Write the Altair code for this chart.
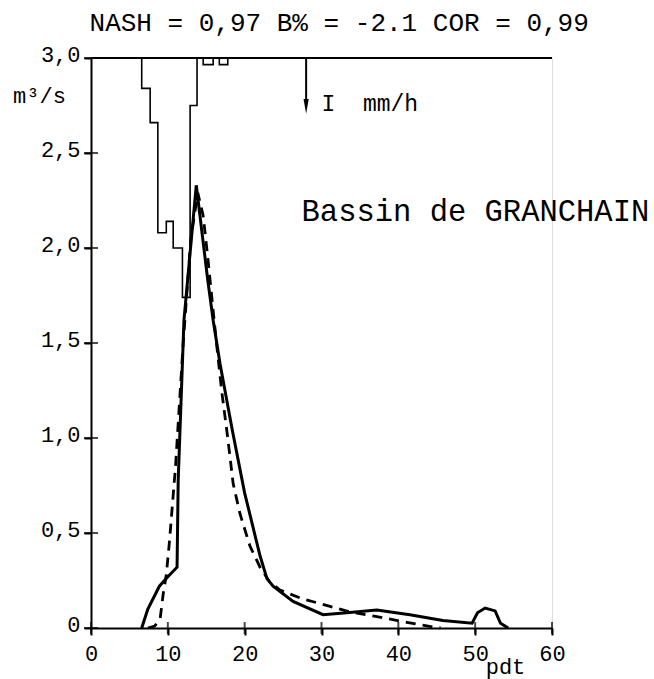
import altair as alt
import pandas as pd

# ---- data ----
# observed hydrograph (solid)
obs_t = [6.6, 7.4, 8.9, 10.0, 11.2, 11.35, 12.1, 13.7, 15.2, 15.9, 16.8, 18.4, 20.0,
         22.0, 22.9, 23.7, 26.3, 30.2, 33.3, 37.2, 41.5, 45.8, 49.6, 50.3, 51.3,
         52.6, 53.3, 54.3]
obs_q = [0.0, 0.10, 0.22, 0.27, 0.32, 0.78, 1.62, 2.33, 1.83, 1.62, 1.39, 1.04, 0.71,
         0.38, 0.26, 0.22, 0.14, 0.07, 0.08, 0.095, 0.07, 0.04, 0.025, 0.08, 0.105,
         0.09, 0.025, 0.0]

# simulated hydrograph (dashed)
sim_t = [7.4, 8.3, 9.0, 9.4, 9.8, 10.2, 10.6, 11.0, 12.0, 13.0, 13.9, 14.6, 15.2,
         16.2, 17.0, 17.8, 18.5, 19.4, 20.7, 22.0, 23.3, 24.6, 27.4, 31.0, 33.7,
         37.2, 41.1, 44.5, 45.5]
sim_q = [0.0, 0.01, 0.05, 0.18, 0.28, 0.45, 0.65, 0.85, 1.50, 2.05, 2.29, 2.17, 1.95,
         1.55, 1.25, 1.00, 0.76, 0.60, 0.43, 0.32, 0.24, 0.20, 0.155, 0.115, 0.085,
         0.06, 0.03, 0.005, 0.0]

# hyetograph (hangs from the top line, depth in axis units)
rain_start = [6.6, 7.7, 8.7, 9.8, 10.7, 11.9, 12.9, 14.6, 16.7]
rain_end = [7.7, 8.7, 9.8, 10.7, 11.9, 12.9, 13.8, 15.9, 17.8]
rain_depth = [0.16, 0.34, 0.92, 0.86, 1.00, 1.26, 0.25, 0.035, 0.035]

x_ticks = [0, 10, 20, 30, 40, 50, 60]
y_ticks = [0, 0.5, 1.0, 1.5, 2.0, 2.5, 3.0]

title_text = "NASH = 0,97 B% = -2.1 COR = 0,99"
basin_text = "Bassin de GRANCHAIN"
rain_label = "I\u00a0\u00a0mm/h"

FONT = "Liberation Mono"
FS = 22
TOP = 3.0

obs = pd.DataFrame({"t": obs_t, "q": obs_q})
sim = pd.DataFrame({"t": sim_t, "q": sim_q})
xt = pd.DataFrame({"t": x_ticks})
yt = pd.DataFrame({"q": y_ticks})
one = pd.DataFrame({"k": [0]})

# outline of the hyetograph: one step path per contiguous run of bars
rows = []
grp = 0
order = 0
prev_end = None
for s, e, d in zip(rain_start, rain_end, rain_depth):
    if prev_end is None or abs(s - prev_end) > 1e-9:
        if prev_end is not None:
            rows.append({"t": prev_end, "q": TOP, "g": grp, "o": order}); order += 1
            grp += 1
        rows.append({"t": s, "q": TOP, "g": grp, "o": order}); order += 1
    rows.append({"t": s, "q": TOP - d, "g": grp, "o": order}); order += 1
    prev_end = e
rows.append({"t": prev_end, "q": TOP, "g": grp, "o": order})
rain = pd.DataFrame(rows)

xs = alt.Scale(domain=[0, 60], nice=False, zero=True)
ys = alt.Scale(domain=[0, 3], nice=False, zero=True)

x_axis = alt.Axis(values=x_ticks, title="pdt", format="d", labelFont=FONT,
                  labelFontSize=FS, labelColor="black", domainColor="black",
                  domainWidth=2, tickColor="black", tickWidth=2, tickSize=7,
                  labelPadding=8, grid=False, labelFlush=False, labelOverlap=False,
                  titleFont=FONT, titleFontSize=FS, titleFontWeight="normal",
                  titleColor="black", titleX=414, titleY=45, titleAlign="center",
                  titleBaseline="alphabetic")
y_axis = alt.Axis(values=y_ticks, title="m³/s",
                  labelExpr="datum.value == 0 ? '0' : replace(format(datum.value, '.1f'), '.', ',')",
                  labelFont=FONT, labelFontSize=FS, labelColor="black",
                  domainColor="black", domainWidth=2, tickColor="black", tickWidth=2,
                  tickSize=7, labelPadding=4, grid=False, labelOverlap=False,
                  labelBaseline="alphabetic", labelOffset=3,
                  titleFont=FONT, titleFontSize=FS, titleFontWeight="normal",
                  titleColor="black", titleAngle=0, titleX=-52, titleY=37,
                  titleAlign="center", titleBaseline="middle")

obs_line = alt.Chart(obs).mark_line(color="black", strokeWidth=3).encode(
    x=alt.X("t:Q", scale=xs, axis=x_axis),
    y=alt.Y("q:Q", scale=ys, axis=y_axis),
)

sim_line = alt.Chart(sim).mark_line(color="black", strokeWidth=2.8,
                                    strokeDash=[10, 7]).encode(
    x=alt.X("t:Q", scale=xs),
    y=alt.Y("q:Q", scale=ys),
)

rain_line = alt.Chart(rain).mark_line(color="black", strokeWidth=1.6,
                                      interpolate="step-after").encode(
    x=alt.X("t:Q", scale=xs),
    y=alt.Y("q:Q", scale=ys),
    detail="g:N",
    order="o:Q",
)

top_line = alt.Chart(one).mark_rule(color="black", strokeWidth=2).encode(
    y=alt.datum(TOP)
)

y_ticks_in = alt.Chart(yt).mark_tick(orient="horizontal", size=14, thickness=2,
                                     color="black").encode(
    x=alt.datum(0),
    y=alt.Y("q:Q", scale=ys),
)
x_ticks_in = alt.Chart(xt).mark_tick(orient="vertical", size=12, thickness=2,
                                     color="black").encode(
    x=alt.X("t:Q", scale=xs),
    y=alt.datum(0),
)

arrow_line = alt.Chart(one).mark_rule(color="black", strokeWidth=2).encode(
    x=alt.datum(28.0), y=alt.datum(TOP), y2=alt.datum(2.76)
)
arrow_head = alt.Chart(one).mark_point(
    shape="M-0.35,-1 L0.35,-1 L0,1 Z", filled=True, color="black", opacity=1,
    size=220
).encode(x=alt.datum(28.0), y=alt.datum(2.745))

rain_text = alt.Chart(one).mark_text(
    text=rain_label, font=FONT, fontSize=23, align="left", baseline="middle",
    color="black"
).encode(x=alt.datum(30.0), y=alt.datum(2.76))

basin = alt.Chart(one).mark_text(
    text=basin_text, font=FONT, fontSize=30.5, align="left", baseline="middle",
    color="black"
).encode(x=alt.datum(27.4), y=alt.datum(2.19))

title = alt.Chart(one).mark_text(
    text=title_text, font=FONT, fontSize=26, align="center", baseline="alphabetic",
    color="black"
).encode(x=alt.datum(32.3), y=alt.datum(3.142))

chart = alt.layer(
    obs_line, sim_line, rain_line, top_line, y_ticks_in, x_ticks_in,
    arrow_line, arrow_head, rain_text, basin, title
).properties(
    width=461, height=570,
    autosize=alt.AutoSizeParams(type="none"),
    padding={"left": 91, "top": 58, "right": 102, "bottom": 51},
).configure_view(strokeWidth=0).configure(background="white")

chart.save("out.html", embed_options={"renderer": "svg", "actions": False})
